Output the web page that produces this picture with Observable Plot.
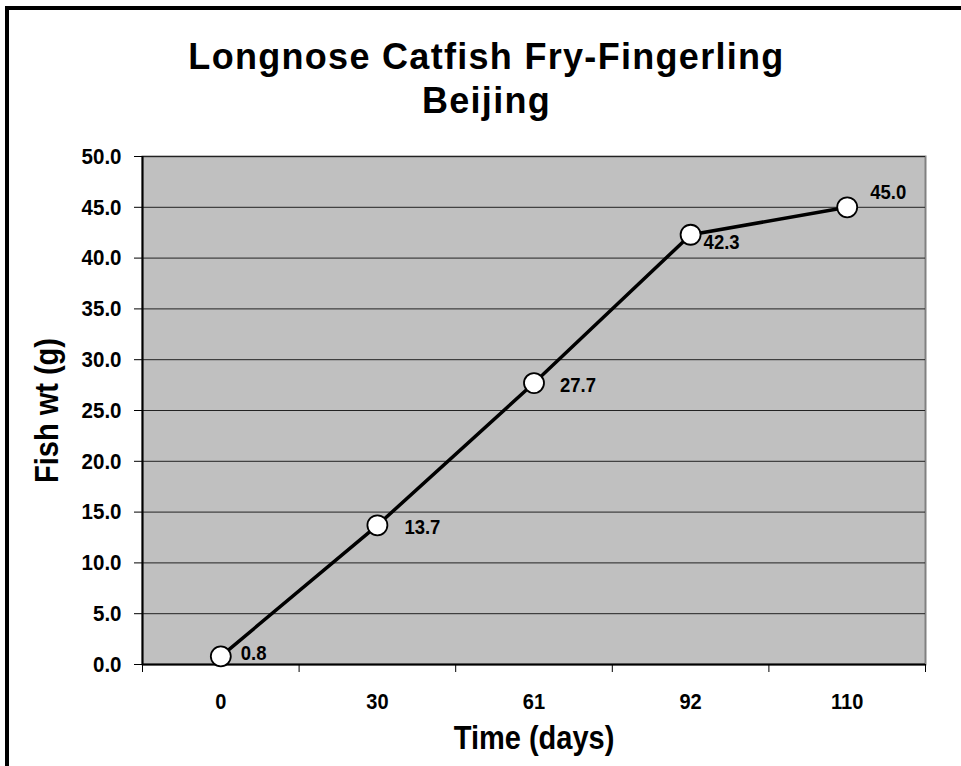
<!DOCTYPE html>
<html>
<head>
<meta charset="utf-8">
<script src="https://cdn.jsdelivr.net/npm/d3@7"></script>
<script src="https://cdn.jsdelivr.net/npm/@observablehq/plot@0.6"></script>
<style>
  html, body { margin: 0; padding: 0; background: #fff; overflow: hidden; }
  #wrap { position: relative; width: 961px; height: 766px; font-family: "Liberation Sans", Arial, sans-serif; }
  #border { position: absolute; left: 5px; top: 6px; width: 1000px; height: 800px; border-left: 4px solid #000; border-top: 4px solid #000; pointer-events: none; }
  #title { height: 140px; box-sizing: border-box; padding-top: 35px; padding-left: 12px; text-align: center; font-weight: bold; font-size: 36px; letter-spacing: 1.3px; line-height: 44px; color: #000; }
  svg { display: block; }
</style>
</head>
<body>
<div id="wrap">
  <div id="title">Longnose Catfish Fry-Fingerling<br>Beijing</div>
  <div id="chart"></div>
  <div id="border"></div>
</div>
<script>
// Data
const days = ["0", "30", "61", "92", "110"];
const weights = [0.8, 13.7, 27.7, 42.3, 45.0];
const yTicks = [0, 5, 10, 15, 20, 25, 30, 35, 40, 45, 50];

// Label placement (styling only)
const labelDx = [20, 27, 26, 13, 23];
const labelDy = [-3, 2, 2, 8, -15];

const data = days.map((d, i) => ({i, day: d, w: weights[i]}));
const bounds = d3.range(days.length + 1).map(k => k - 0.5);

const font = "'Liberation Sans', Arial, sans-serif";

const chart = Plot.plot({
  width: 961,
  height: 626,
  marginTop: 16,
  marginBottom: 102,
  marginLeft: 142,
  marginRight: 36,
  style: {fontFamily: font, fontWeight: "bold", color: "#000", background: "transparent"},
  x: {type: "linear", domain: [-0.5, days.length - 0.5]},
  y: {domain: [0, 50]},
  marks: [
    Plot.frame({fill: "#c0c0c0", stroke: "#808080", strokeWidth: 2}),
    Plot.gridY(yTicks.slice(1), {stroke: "#222", strokeOpacity: 1, strokeWidth: 1}),
    Plot.ruleY([0], {stroke: "#000", strokeWidth: 2}),
    Plot.ruleX([-0.5], {stroke: "#000", strokeWidth: 2}),
    Plot.axisY(yTicks, {tickSize: 8, tickPadding: 13, tickFormat: d => d.toFixed(1), fontSize: 20.5, stroke: "#000", label: null}),
    Plot.axisX(bounds, {tickSize: 8, tickFormat: () => "", stroke: "#000", label: null}),
    Plot.axisX(d3.range(days.length), {tickSize: 0, tickPadding: 29, tickFormat: i => days[i], fontSize: 20, label: null}),
    Plot.text(["Time (days)"], {frameAnchor: "bottom", textAnchor: "middle", lineAnchor: "middle", dy: 74, fontSize: 29, fontWeight: "bold"}),
    Plot.text(["Fish wt (g)"], {frameAnchor: "left", textAnchor: "middle", lineAnchor: "middle", dx: -95, rotate: -90, fontSize: 29, fontWeight: "bold"}),
    Plot.line(data, {x: "i", y: "w", stroke: "#000", strokeWidth: 3.5}),
    Plot.dot(data, {x: "i", y: "w", r: 10, fill: "#fff", stroke: "#000", strokeWidth: 1.8}),
    ...data.map((d, k) => Plot.text([d], {x: "i", y: "w", text: e => e.w.toFixed(1), textAnchor: "start", dx: labelDx[k], dy: labelDy[k], fontSize: 18.5, fontWeight: "bold", fill: "#000"}))
  ]
});
document.getElementById("chart").appendChild(chart);

// Excel-style tall glyphs: enlarge font, keep original advance width
const stretch = 1.12;
chart.querySelectorAll("text").forEach(t => {
  const len = t.getComputedTextLength();
  if (!len) return;
  const fs = parseFloat(getComputedStyle(t).fontSize);
  t.style.fontSize = (fs * stretch) + "px";
  t.setAttribute("textLength", len);
  t.setAttribute("lengthAdjust", "spacingAndGlyphs");
});
</script>
</body>
</html>
